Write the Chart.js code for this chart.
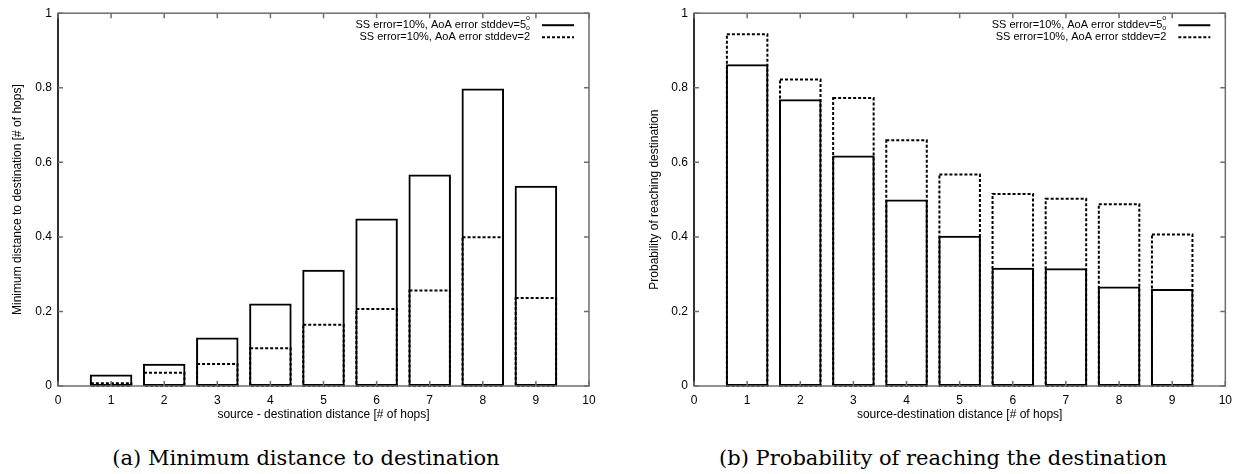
<!DOCTYPE html>
<html>
<head>
<meta charset="utf-8">
<script src="https://cdn.jsdelivr.net/npm/chart.js@4.4.1/dist/chart.umd.min.js"></script>
<style>
  body { margin: 0; background: #fff; width: 1239px; height: 474px; position: relative; overflow: hidden; }
  .box { position: absolute; top: 0; height: 430px; }
  .caption { position: absolute; top: 446px; width: 600px; line-height: 24px; font-family: "DejaVu Serif", serif; font-size: 21px; color: #000; text-align: center; white-space: nowrap; }
</style>
</head>
<body>
<div class="box" style="left:0;width:610px"><canvas id="chartA"></canvas></div>
<div class="box" style="left:620px;width:619px"><canvas id="chartB"></canvas></div>
<div class="caption" style="left:6px">(a) Minimum distance to destination</div>
<div class="caption" style="left:643px">(b) Probability of reaching the destination</div>
<script>
//data
const hops = [1, 2, 3, 4, 5, 6, 7, 8, 9];
const xTickValues = [0, 1, 2, 3, 4, 5, 6, 7, 8, 9, 10];
const yTickValues = [0, 0.2, 0.4, 0.6, 0.8, 1];
const seriesNames = ["SS error=10%, AoA error stddev=5", "SS error=10%, AoA error stddev=2"];

const minDistAoA5 = [0.031, 0.060, 0.130, 0.221, 0.312, 0.449, 0.567, 0.798, 0.537];
const minDistAoA2 = [0.010, 0.038, 0.062, 0.104, 0.167, 0.209, 0.259, 0.402, 0.239];
const probAoA5 = [0.863, 0.769, 0.618, 0.500, 0.403, 0.317, 0.316, 0.267, 0.260];
const probAoA2 = [0.946, 0.825, 0.775, 0.662, 0.570, 0.518, 0.505, 0.490, 0.409];

const FONT = "'Liberation Sans', Arial, sans-serif";
const FRAME = "#6e6e6e";

//draws the dashed bars, the gnuplot style frame with inward ticks and the key
const gnuplotLook = {
    id: 'gnuplotLook',
    afterDatasetsDraw(chart) {
        const ctx = chart.ctx;
        chart.data.datasets.forEach((ds, i) => {
            if (!ds.dashed) return;
            const meta = chart.getDatasetMeta(i);
            ctx.save();
            ctx.strokeStyle = '#000';
            ctx.lineWidth = 2;
            ctx.setLineDash([3, 2]);
            meta.data.forEach((bar) => {
                const p = bar.getProps(['x', 'y', 'base', 'width'], true);
                ctx.strokeRect(p.x - p.width / 2 + 1, p.y + 1, p.width - 2, p.base - p.y - 1);
            });
            ctx.restore();
        });
    },
    afterDraw(chart) {
        const ctx = chart.ctx;
        const a = chart.chartArea;
        const xs = chart.scales.x, ys = chart.scales.y;
        ctx.save();
        ctx.strokeStyle = FRAME;
        ctx.lineWidth = 1.5;
        ctx.strokeRect(a.left, a.top, a.right - a.left, a.bottom - a.top);
        //left border comes out darker in the original
        ctx.strokeStyle = '#111';
        ctx.beginPath();
        ctx.moveTo(a.left, a.top); ctx.lineTo(a.left, a.bottom);
        ctx.stroke();
        ctx.strokeStyle = FRAME;
        ctx.beginPath();
        xs.ticks.forEach((t) => {
            const px = xs.getPixelForValue(t.value);
            ctx.moveTo(px, a.bottom); ctx.lineTo(px, a.bottom - 5);
            ctx.moveTo(px, a.top); ctx.lineTo(px, a.top + 5);
        });
        ys.ticks.forEach((t) => {
            const py = ys.getPixelForValue(t.value);
            ctx.moveTo(a.left, py); ctx.lineTo(a.left + 5, py);
            ctx.moveTo(a.right, py); ctx.lineTo(a.right - 5, py);
        });
        ctx.stroke();

        //key, top right inside the plot
        const lineRight = a.right - 15;
        const lineLeft = lineRight - 32;
        const textRight = lineLeft - 12;
        ctx.font = "11px " + FONT;
        ctx.fillStyle = '#000';
        ctx.textAlign = 'right';
        ctx.textBaseline = 'middle';
        chart.data.datasets.forEach((ds, i) => {
            const y = a.top + 12 + i * 12;
            let tr = textRight;
            if (i === 0) {
                //degree sign rendered by gnuplot as a raised and a lowered "o"
                ctx.font = "7px " + FONT;
                ctx.textAlign = 'left';
                ctx.fillText("o", textRight - 4, y - 7);
                ctx.fillText("o", textRight - 4, y + 3);
                ctx.font = "11px " + FONT;
                ctx.textAlign = 'right';
                tr = textRight - 4;
            }
            ctx.fillText(ds.label, tr, y);
            ctx.strokeStyle = '#000';
            ctx.lineWidth = 2;
            ctx.setLineDash(ds.dashed ? [3, 2] : []);
            ctx.beginPath();
            ctx.moveTo(lineLeft, y); ctx.lineTo(lineRight, y);
            ctx.stroke();
        });
        ctx.restore();
    }
};

function makeChart(id, solidValues, dashedValues, yTitle, xTitle, yAxisWidth, yTitlePad) {
    const ctx = document.getElementById(id).getContext('2d');
    return new Chart(ctx, {
        type: 'bar',
        data: {
            datasets: [{
                label: seriesNames[0],
                data: hops.map((h, i) => ({ x: h, y: solidValues[i] })),
                backgroundColor: 'rgba(0,0,0,0)',
                borderColor: '#000',
                borderWidth: 2,
                borderSkipped: false
            }, {
                label: seriesNames[1],
                dashed: true,
                data: hops.map((h, i) => ({ x: h, y: dashedValues[i] })),
                backgroundColor: 'rgba(0,0,0,0)',
                borderWidth: 0
            }]
        },
        options: {
            responsive: true,
            maintainAspectRatio: false,
            animation: false,
            grouped: false,
            categoryPercentage: 0.8,
            barPercentage: 1.0,
            layout: { padding: { top: 12, right: id === 'chartA' ? 21 : 12, left: 0, bottom: 0 } },
            plugins: { legend: { display: false }, tooltip: { enabled: false } },
            scales: {
                x: {
                    type: 'linear',
                    min: 0, max: 10,
                    offset: false,
                    afterBuildTicks: (s) => { s.ticks = xTickValues.map((v) => ({ value: v })); },
                    afterFit: (s) => { s.height = 44; },
                    grid: { display: false, drawTicks: false },
                    border: { display: false },
                    ticks: { padding: 7, color: '#000', font: { family: FONT, size: 12 }, maxRotation: 0 },
                    title: { display: true, text: xTitle, color: '#000', font: { family: FONT, size: 12 }, padding: { top: 0, bottom: 8 } }
                },
                y: {
                    min: 0, max: 1,
                    afterBuildTicks: (s) => { s.ticks = yTickValues.map((v) => ({ value: v })); },
                    afterFit: (s) => { s.width = yAxisWidth; },
                    grid: { display: false, drawTicks: false },
                    border: { display: false },
                    ticks: { padding: 6, color: '#000', font: { family: FONT, size: 12 }, callback: (v) => String(v) },
                    title: { display: true, text: yTitle, color: '#000', font: { family: FONT, size: 12 }, padding: { top: yTitlePad, bottom: 0 } }
                }
            }
        },
        plugins: [gnuplotLook]
    });
}

makeChart('chartA', minDistAoA5, minDistAoA2,
    "Minimum distance to destination [# of hops]", "source - destination distance [# of hops]", 58, 10);
makeChart('chartB', probAoA5, probAoA2,
    "Probability of reaching destination", "source-destination distance [# of hops]", 74, 27);
</script>
</body>
</html>
